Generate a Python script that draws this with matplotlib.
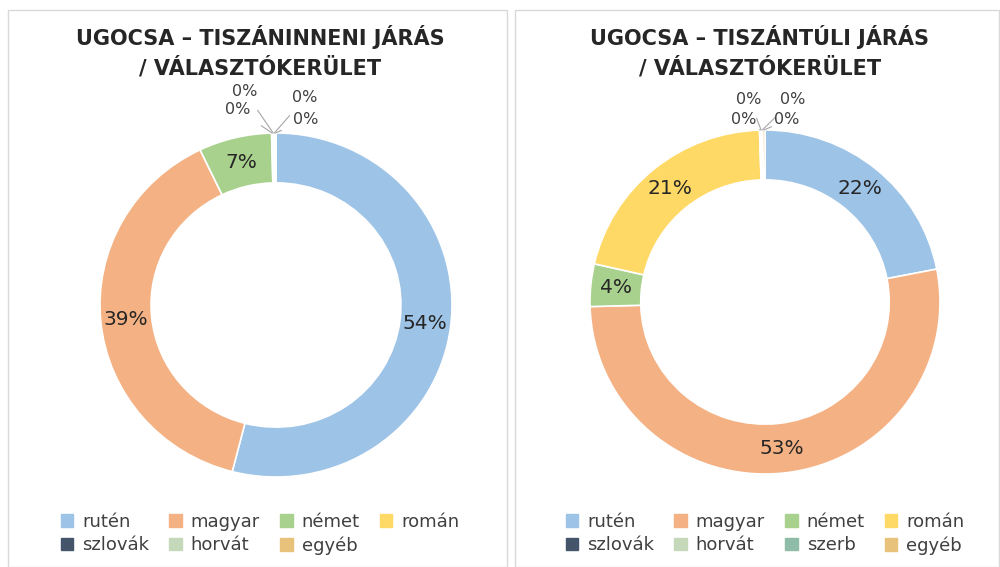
import matplotlib.pyplot as plt
from matplotlib.patches import Rectangle
import numpy as np

# data
left_title = "UGOCSA – TISZÁNINNENI JÁRÁS\n/ VÁLASZTÓKERÜLET"
left_cats = ["rutén", "magyar", "német", "román", "szlovák", "horvát", "egyéb"]
left_vals = [54.0, 38.9, 6.7, 0.1, 0.1, 0.1, 0.1]

right_title = "UGOCSA – TISZÁNTÚLI JÁRÁS\n/ VÁLASZTÓKERÜLET"
right_cats = ["rutén", "magyar", "német", "román", "szlovák", "horvát", "szerb", "egyéb"]
right_vals = [22.0, 52.8, 4.0, 21.0, 0.1, 0.1, 0.1, 0.2]

colors = {"rutén": "#9DC3E6", "magyar": "#F4B183", "német": "#A9D18E",
          "román": "#FFD966", "szlovák": "#44546A", "horvát": "#C5D9BA",
          "szerb": "#8FBCA8", "egyéb": "#E8C27A"}

W, H = 1000, 567
fig = plt.figure(figsize=(10, 5.67), dpi=100)

# panel frames
for x0, x1 in [(8, 507), (515, 999)]:
    fig.patches.append(Rectangle((x0 / W, 0), (x1 - x0) / W, 1 - 10 / H,
                                 transform=fig.transFigure, fill=False,
                                 edgecolor="#D9D9D9", lw=1))


def donut(cx, cy, Rx, Ry, cats, vals, small_pos, title, title_x, legend_order, legend_x):
    ax = fig.add_axes([(cx - Rx) / W, 1 - (cy + Ry) / H, 2 * Rx / W, 2 * Ry / H])
    wedges, _ = ax.pie(vals, colors=[colors[c] for c in cats], startangle=90,
                       counterclock=False, radius=1,
                       wedgeprops=dict(width=0.29, edgecolor="white", linewidth=1.2))
    ax.set_aspect("auto")
    ax.set_xlim(-1, 1)
    ax.set_ylim(-1, 1)
    ax.axis("off")
    total = sum(vals)
    si = 0
    for w, c, v in zip(wedges, cats, vals):
        ang = np.deg2rad((w.theta1 + w.theta2) / 2)
        pct = "%d%%" % round(v / total * 100)
        if v / total >= 0.02:
            r = 0.855
            ax.text(r * np.cos(ang), r * np.sin(ang), pct, ha="center", va="center",
                    fontsize=14.5, color="#262626")
        else:
            px, py = small_pos[si]
            si += 1
            tx, ty = (px - cx) / Rx, (cy - py) / Ry
            ax.annotate(pct, xy=(np.cos(ang), np.sin(ang)), xytext=(tx, ty),
                        ha="center", va="center", fontsize=11.5, color="#404040",
                        annotation_clip=False,
                        arrowprops=dict(arrowstyle="-", color="#A6A6A6", lw=0.8,
                                        shrinkA=7, shrinkB=0))
    fig.text(title_x / W, 1 - 52 / H, title, ha="center", va="center",
             fontsize=15, fontweight="bold", color="#262626", linespacing=1.45)
    handles = [Rectangle((0, 0), 1, 1, color=colors[c]) for c in legend_order]
    fig.legend(handles, legend_order, loc="center", ncol=4,
               bbox_to_anchor=(legend_x / W, 1 - 534 / H), frameon=False,
               fontsize=13, labelcolor="#404040", handlelength=0.7,
               handleheight=0.7, handletextpad=0.5, columnspacing=1.1,
               labelspacing=0.3)


donut(276, 305, 176, 172, left_cats, left_vals,
      [(238, 110), (245, 92), (305, 98), (306, 120)],
      left_title, 260,
      ["rutén", "szlovák", "magyar", "horvát", "német", "egyéb", "román"], 260)

donut(765, 302, 175, 172, right_cats, right_vals,
      [(744, 120), (749, 99), (793, 100), (787, 120)],
      right_title, 760,
      ["rutén", "szlovák", "magyar", "horvát", "német", "szerb", "román", "egyéb"], 765)

fig.savefig("out.png", dpi=100, facecolor="white")
